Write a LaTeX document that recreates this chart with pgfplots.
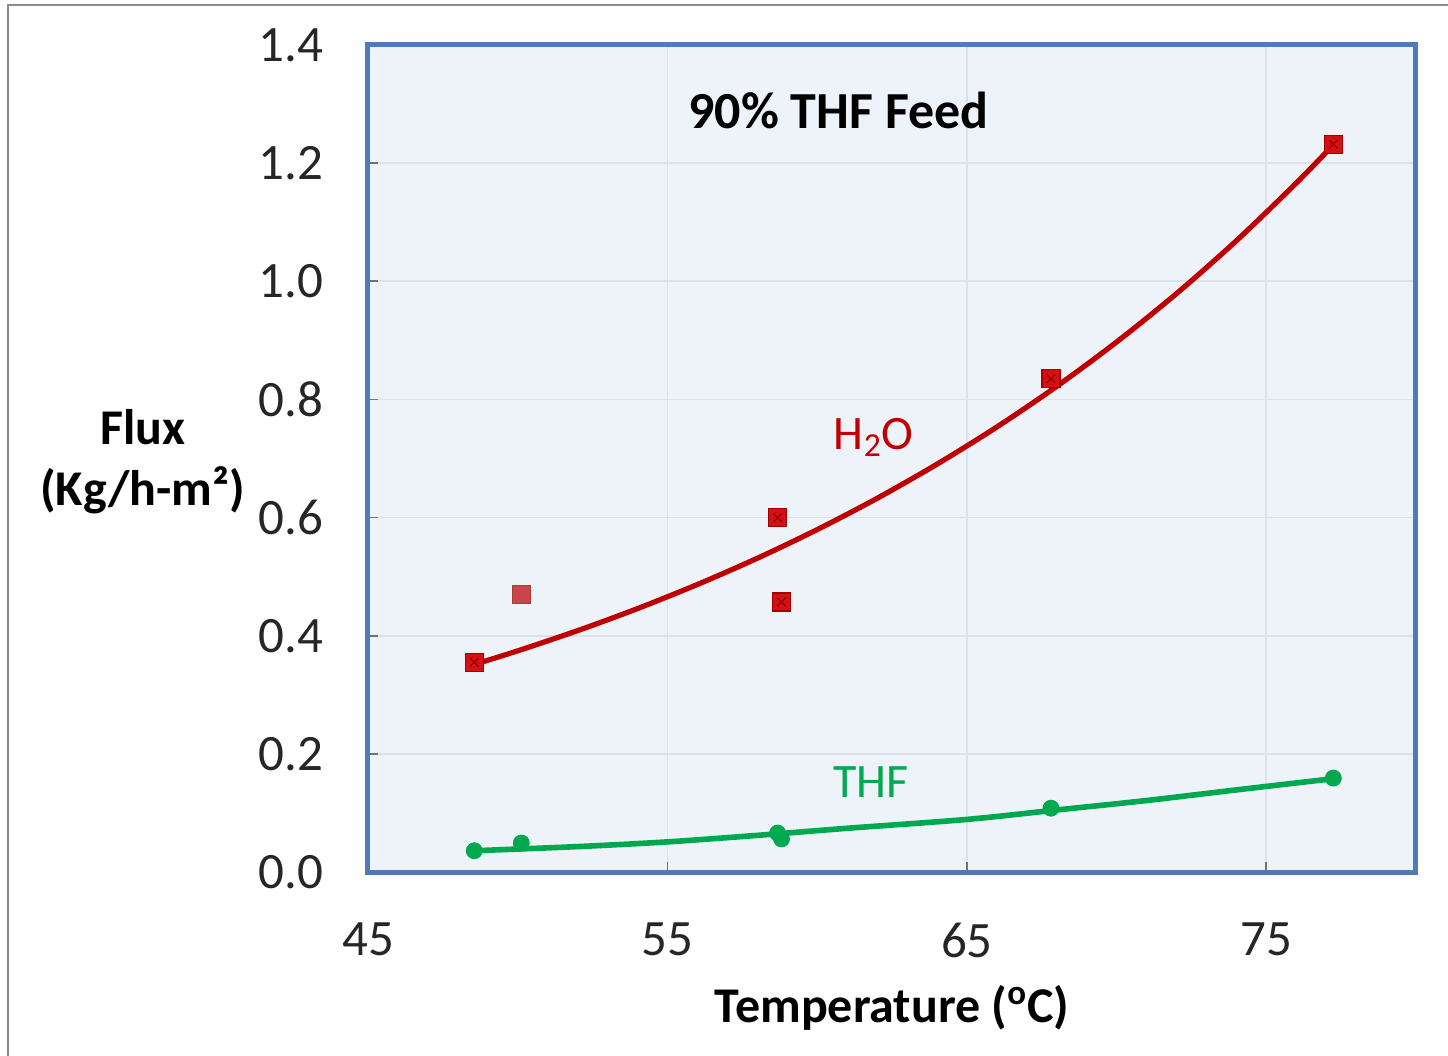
\documentclass[border=0pt]{standalone}
\usepackage{pgfplots}
\pgfplotsset{compat=1.18}
\usepackage{fontspec}
\setmainfont{Carlito}

\definecolor{frameblue}{HTML}{4F7CB8}
\definecolor{plotbg}{HTML}{EEF2F9}
\definecolor{gridc}{HTML}{DCE2EA}
\definecolor{h2ored}{HTML}{C00000}
\definecolor{h2omark}{HTML}{D41015}
\definecolor{h2olight}{HTML}{C8464A}
\definecolor{thfgreen}{HTML}{00A84F}

\begin{document}
\begin{tikzpicture}
\begin{axis}[
  name=ax, at={(0,0)}, anchor=south west,
  scale only axis, width=524pt, height=413.5pt,
  xmin=45, xmax=80, ymin=0, ymax=1.4,
  xtick={45,55,65,75},
  ytick={0,0.2,0.4,0.6,0.8,1.0,1.2,1.4},
  axis background/.style={fill=plotbg},
  axis line style={frameblue, line width=2.5pt},
  grid=major, major grid style={gridc, line width=0.8pt},
  tick style={black!55, line width=0.8pt}, major tick length=5pt,
  tick pos=left, tick align=inside,
  /pgf/number format/assume math mode=true,
  ticklabel style={font=\fontsize{25.5}{30}\selectfont, text=black!85},
  yticklabel style={xshift=-19pt, /pgf/number format/.cd, fixed, fixed zerofill, precision=1},
  xticklabel style={yshift=-22pt},
  xlabel={Temperature (\textsuperscript{o}C)},
  xlabel style={font=\bfseries\fontsize{25}{30}\selectfont, at={(rel axis cs:0.5,-0.164)}, anchor=center},
  ylabel={Flux\\(Kg/h-m²)},
  ylabel style={font=\bfseries\fontsize{25}{30.5}\selectfont, rotate=-90, align=center,
    at={(rel axis cs:-0.215,0.496)}, anchor=center},
]
% H2O trend line
\addplot[h2ored, line width=2.6pt, smooth] coordinates {
  (48.55,0.3514) (50,0.3744) (52,0.4086) (54,0.4459) (56,0.4867) (58,0.5311)
  (60,0.5796) (62,0.6325) (64,0.6903) (66,0.7533) (68,0.8221) (70,0.8972)
  (72,0.9791) (74,1.0686) (76,1.1662) (77.24,1.2311)
};
% THF trend line
\addplot[thfgreen, line width=2.8pt, smooth] coordinates {
  (48.55,0.036) (52,0.043) (55,0.051) (58,0.062) (61,0.074) (65,0.089)
  (68,0.105) (71,0.121) (74,0.139) (77.24,0.158)
};
% H2O measured flux
\addplot[only marks, mark=square*, mark size=4.5pt,
  mark options={fill=h2omark, draw=h2ored!85!black, line width=0.6pt}] coordinates {
  (48.55,0.355) (58.68,0.600) (58.81,0.457) (67.81,0.835) (77.24,1.232)
};
\addplot[only marks, mark=x, mark size=3pt,
  mark options={draw=h2ored!75!black, line width=0.6pt}] coordinates {
  (48.55,0.355) (58.68,0.600) (58.81,0.457) (67.81,0.835) (77.24,1.232)
};
\addplot[only marks, mark=square*, mark size=4.5pt,
  mark options={fill=h2olight, draw=h2olight!85!black, line width=0.6pt}] coordinates {
  (50.12,0.470)
};
% THF measured flux
\addplot[only marks, mark=*, mark size=4pt,
  mark options={fill=thfgreen, draw=thfgreen}] coordinates {
  (48.55,0.036) (50.12,0.049) (58.68,0.066) (58.81,0.056) (67.81,0.108) (77.24,0.159)
};
\node[font=\bfseries\fontsize{26}{30}\selectfont] at (rel axis cs:0.449,0.921) {90\% THF Feed};
\node[text=h2ored, font=\fontsize{24}{28}\selectfont] at (axis cs:61.89,0.736) {H\textsubscript{2}O};
\node[text=thfgreen, font=\fontsize{24}{28}\selectfont] at (axis cs:61.79,0.152) {THF};
\end{axis}
\pgfresetboundingbox
\path[use as bounding box] ([shift={(-184pt,-92pt)}]ax.south west) rectangle ([shift={(540pt,436pt)}]ax.south west);
\draw[black!45, line width=1pt] ([shift={(-180pt,-92pt)}]ax.south west) -- ([shift={(-180pt,433.5pt)}]ax.south west) -- ([shift={(540pt,433.5pt)}]ax.south west);
\end{tikzpicture}
\end{document}
